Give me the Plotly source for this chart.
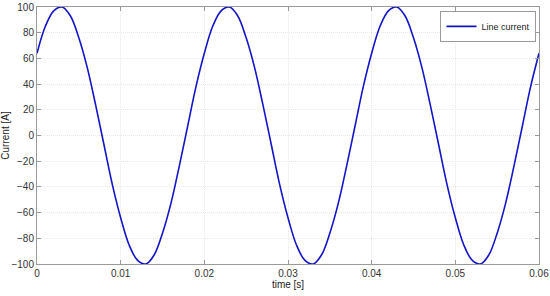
import plotly.graph_objects as go

# time samples [s] and line current [A]
time_s = [i / 1000 for i in range(61)]
current_a = [
    64, 85, 97, 100, 93, 76, 53, 24, -7, -38,
    -64, -85, -97, -100, -93, -76, -53, -24, 7, 38,
    64, 85, 97, 100, 93, 76, 53, 24, -7, -38,
    -64, -85, -97, -100, -93, -76, -53, -24, 7, 38,
    64, 85, 97, 100, 93, 76, 53, 24, -7, -38,
    -64, -85, -97, -100, -93, -76, -53, -24, 7, 38,
    64,
]

x_ticks = [0, 0.01, 0.02, 0.03, 0.04, 0.05, 0.06]
x_labels = ["0", "0.01", "0.02", "0.03", "0.04", "0.05", "0.06"]
y_ticks = list(range(-100, 101, 20))

FONT = "Liberation Sans, Arial"

fig = go.Figure()
fig.add_trace(go.Scatter(
    x=time_s, y=current_a,
    mode="lines",
    line=dict(color="#1414C8", width=1.6, shape="spline", smoothing=1.0),
    name="Line current",
))

axis_common = dict(
    showline=True, linecolor="#9a9a9a", linewidth=1, mirror="ticks",
    ticks="inside", ticklen=4, tickcolor="#9a9a9a",
    showgrid=True, gridcolor="#e8e8e8", griddash="1px,1px", gridwidth=1,
    zeroline=False, automargin=False,
    tickfont=dict(family=FONT, size=10, color="#333333"),
)

fig.update_xaxes(range=[0, 0.06], tickvals=x_ticks, ticktext=x_labels,
                 title=dict(text="time [s]", standoff=2,
                            font=dict(family=FONT, size=10, color="#222222")),
                 **axis_common)
fig.update_yaxes(range=[-100, 100], tickvals=y_ticks,
                 title=dict(text="Current [A]", standoff=6,
                            font=dict(family=FONT, size=10, color="#222222")),
                 **axis_common)

fig.update_layout(
    width=550, height=296,
    margin=dict(l=37, r=11, t=7, b=32, autoexpand=False),
    plot_bgcolor="white", paper_bgcolor="white",
    showlegend=True,
    legend=dict(x=0.995, y=0.985, xanchor="right", yanchor="top",
                bgcolor="white", bordercolor="#9a9a9a", borderwidth=1,
                font=dict(family=FONT, size=9, color="#222222"),
                itemwidth=30, tracegroupgap=0),
)

# drop the browser's default page margin so the figure sits at the top-left
fig.write_html(
    "out.html",
    config={"displayModeBar": False, "responsive": False},
    post_script="document.body.style.margin='0';document.body.style.overflow='hidden';",
)
